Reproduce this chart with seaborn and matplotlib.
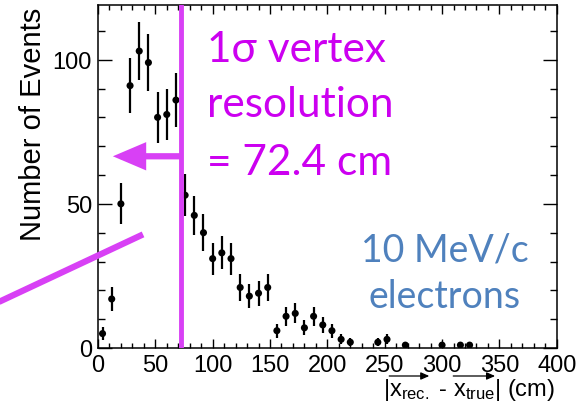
import numpy as np
import pandas as pd
import matplotlib
matplotlib.use("Agg")
import matplotlib.pyplot as plt
import seaborn as sns
from matplotlib.ticker import MultipleLocator, FixedLocator
from matplotlib.patches import FancyArrowPatch, ArrowStyle

# Histogram of reconstructed-vertex distance (8 cm bins)
bin_centers = [4, 12, 20, 28, 36, 44, 52, 60, 68, 76, 84, 92, 100, 108, 116,
               124, 132, 140, 148, 156, 164, 172, 180, 188, 196, 204, 212,
               220, 244, 252, 268, 300, 316, 324]
events = [5, 17, 50, 91, 103, 99, 80, 81, 86, 53, 46, 40, 31, 33, 31,
          21, 18, 19, 21, 6, 11, 12, 7, 11, 8, 6, 3, 2,
          2, 3, 1, 1, 1, 1]

resolution_cm = 72.4
x_ticks = [0, 50, 100, 150, 200, 250, 300, 350, 400]
y_ticks = [0, 50, 100]

annot_lines = ["1σ vertex", "resolution", "= 72.4 cm"]
sample_lines = ["10 MeV/c", "electrons"]

MAGENTA_TEXT = "#cc00f0"
MAGENTA_LINE = "#d840f5"
BLUE_TEXT = "#4f81bd"

sns.set_theme(style="ticks")
plt.rcParams["font.family"] = ["Liberation Sans", "DejaVu Sans"]
plt.rcParams["mathtext.fontset"] = "custom"
plt.rcParams["mathtext.rm"] = "Liberation Sans"
plt.rcParams["mathtext.it"] = "Liberation Sans"
plt.rcParams["mathtext.default"] = "regular"

df = pd.DataFrame({"dx": bin_centers, "n": events})
df["err"] = np.sqrt(df["n"])

fig = plt.figure(figsize=(5.83, 4.06), dpi=100)
ax = fig.add_axes([0.168, 0.1404, 0.787, 0.845])

# Poisson error bars and markers
ax.vlines(df["dx"], df["n"] - df["err"], df["n"] + df["err"],
          color="black", lw=1.6, zorder=3)
sns.scatterplot(data=df, x="dx", y="n", ax=ax, color="black", s=26,
                edgecolor="none", zorder=4, legend=False)

ax.set_xlim(0, 400)
ax.set_ylim(0, 119)
ax.xaxis.set_major_locator(FixedLocator(x_ticks))
ax.yaxis.set_major_locator(FixedLocator(y_ticks))
ax.xaxis.set_minor_locator(MultipleLocator(10))
ax.yaxis.set_minor_locator(MultipleLocator(10))
ax.tick_params(which="both", direction="in", top=True, right=True,
               width=1.0, color="black", labelsize=17, pad=4.3,
               labelcolor="black")
ax.tick_params(axis="x", which="major", length=6.5)
ax.tick_params(axis="x", which="minor", length=3.3)
ax.tick_params(axis="y", which="major", length=10)
ax.tick_params(axis="y", which="minor", length=5)
for sp in ax.spines.values():
    sp.set_linewidth(1.1)
    sp.set_color("black")

ax.set_xlabel("")
ax.set_ylabel("Number of Events", fontsize=21, loc="top", color="black")
ax.yaxis.set_label_coords(-0.112, 0.995)

# 1-sigma resolution marker
ax.axvline(resolution_cm, color=MAGENTA_LINE, lw=3.5, zorder=5)
arrow_y = 66.5
arrow_tip = 13
arr = FancyArrowPatch((resolution_cm, arrow_y), (arrow_tip, arrow_y),
                      arrowstyle=ArrowStyle("-|>", head_length=16, head_width=6.8),
                      mutation_scale=1, lw=4.5, color=MAGENTA_LINE,
                      shrinkA=0, shrinkB=0, joinstyle="miter", capstyle="butt",
                      zorder=5)
ax.add_patch(arr)

# slanted pointer running off the left edge
slant_x = [-90, 39.3]
slant_y = [15.3, 39.4]
ax.plot(slant_x, slant_y, color=MAGENTA_LINE, lw=4.5, clip_on=False,
        solid_capstyle="butt", zorder=5)

callout_font = ["Lato", "DejaVu Sans"]
for txt, yb in zip(annot_lines, [0.847, 0.712, 0.569]):
    fig.text(0.355, yb, txt, fontsize=30.5, color=MAGENTA_TEXT,
             family=callout_font, va="baseline", ha="left")
for txt, yb in zip(sample_lines, [0.355, 0.242]):
    fig.text(0.763, yb, txt, fontsize=27, color=BLUE_TEXT,
             family=callout_font, va="baseline", ha="center")

# x-axis title with vector arrows over the symbols
fs = 17
label_str = r"|$x_{rec.}$ - $x_{true}$| (cm)"
xl = fig.text(555 / 583, 1 - 396 / 406, label_str, fontsize=fs,
              ha="right", va="baseline", color="black")
fig.canvas.draw()
renderer = fig.canvas.get_renderer()


def text_width(s):
    t = fig.text(0, 0, s, fontsize=fs)
    w = t.get_window_extent(renderer).width
    t.remove()
    return w


bb = xl.get_window_extent(renderer)
left = bb.x0
seg1 = (left + text_width("|"), left + text_width(r"|$x_{rec.}$"))
seg2_end = left + text_width(r"|$x_{rec.}$ - $x_{true}$")
seg2 = (seg2_end - text_width(r"$x_{true}$"), seg2_end)
arrow_px_y = 406 - 377
inv = fig.transFigure.inverted()
for x0, x1 in (seg1, seg2):
    p0 = inv.transform((x0, arrow_px_y))
    p1 = inv.transform((x1, arrow_px_y))
    fig.add_artist(FancyArrowPatch(p0, p1, transform=fig.transFigure,
                                   arrowstyle=ArrowStyle("-|>", head_length=5, head_width=2.2),
                                   mutation_scale=1, lw=0.9, color="black",
                                   shrinkA=0, shrinkB=0))

fig.savefig("out.png", dpi=100)
